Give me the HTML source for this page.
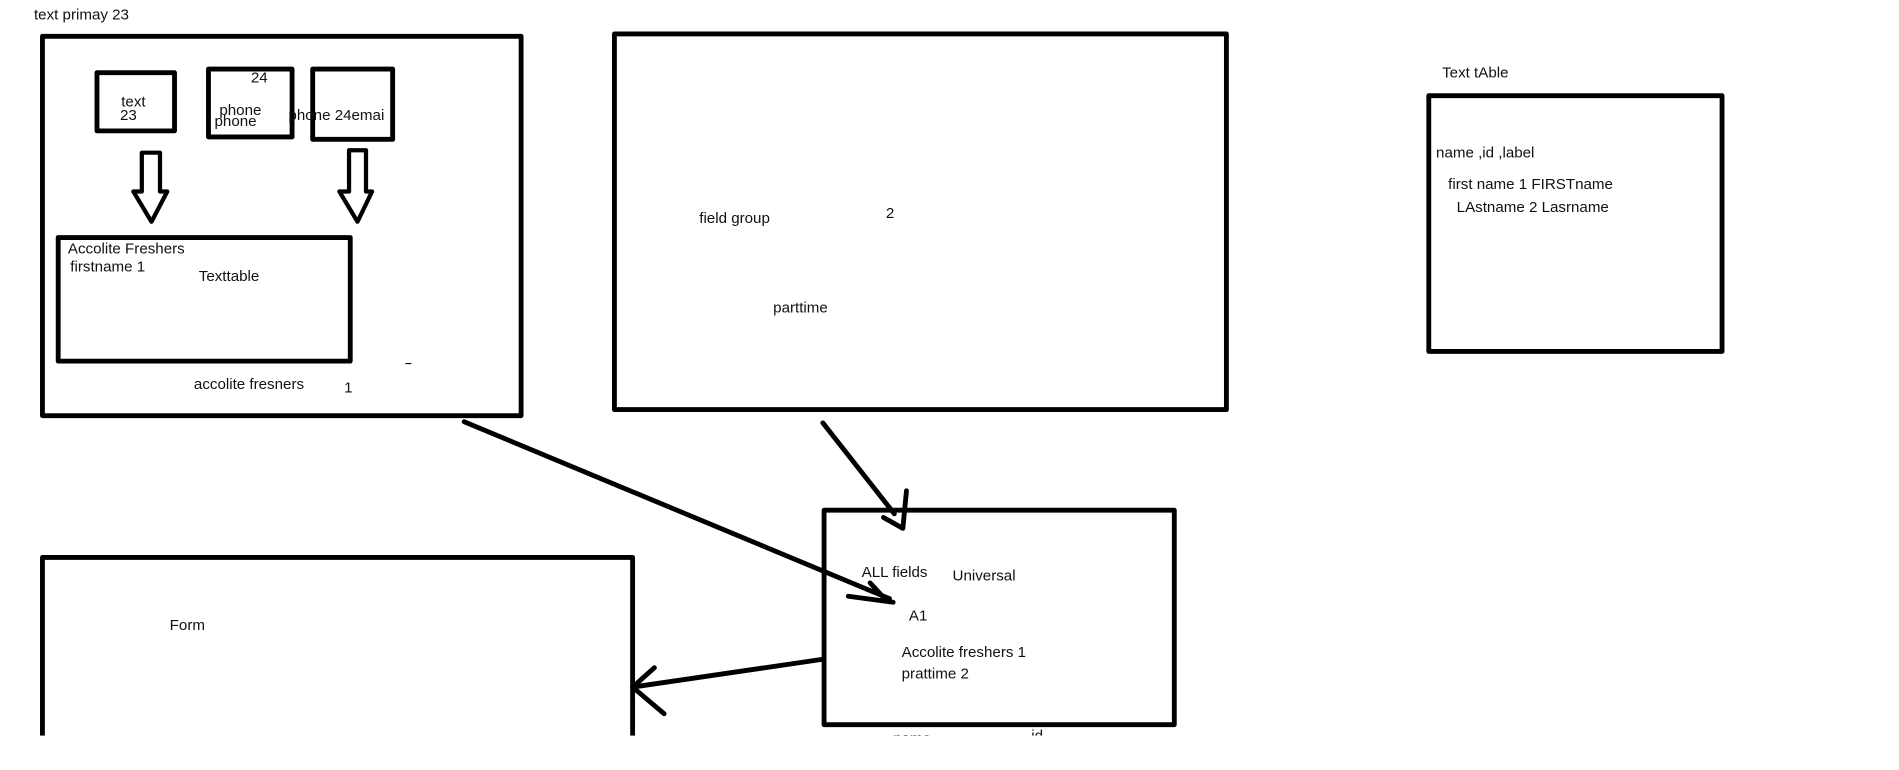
<!DOCTYPE html>
<html><head><meta charset="utf-8"><style>
html,body{margin:0;padding:0;background:#fff;width:1899px;height:770px;overflow:hidden}
svg{display:block}
text{font-family:"Liberation Sans",sans-serif;font-size:12.5px;fill:#111}
</style></head><body>
<svg width="1899" height="770" viewBox="0 0 1567 635.4" xmlns="http://www.w3.org/2000/svg">
<g fill="none" stroke="#000" stroke-width="4" stroke-linecap="round" stroke-linejoin="round">
<rect x="35" y="30" width="395" height="313"/>
<rect x="80" y="60" width="64" height="48"/>
<rect x="172" y="57" width="69" height="56"/>
<rect x="258" y="57" width="66" height="58"/>
<path d="M117,126 H132 V158 H138 L125,183 L110,158 H117 Z" stroke-width="3.5"/>
<path d="M288,124 H302 V158 H307 L295,183 L280,158 H288 Z" stroke-width="3.5"/>
<rect x="48" y="196" width="241" height="102"/>
<rect x="507" y="28" width="505" height="310"/>
<rect x="1179" y="79" width="242" height="211"/>
<rect x="680" y="421" width="289" height="177"/>
<path d="M35,640 V460 H522 V640"/>
<path d="M383,348 L734,494"/>
<path d="M700,492 L737,497"/>
<path d="M718,481 L730,494"/>
<path d="M679,349 L738,424"/>
<path d="M748,405 L745,436 L729,427"/>
<path d="M679,544 L522,567"/>
<path d="M522,567 L548,589"/>
<path d="M522,567 L540,551"/>
<path d="M335,300 H339" stroke-width="1"/>
</g>
<text x="28" y="16">text primay 23</text>
<text x="100" y="88">text</text>
<text x="99" y="99">23</text>
<text x="207" y="68">24</text>
<text x="181" y="95">phone</text>
<text x="177" y="104">phone</text>
<text x="238" y="99">phone 24emai</text>
<text x="56" y="209">Accolite Freshers</text>
<text x="58" y="224">firstname 1</text>
<text x="164" y="232">Texttable</text>
<text x="160" y="321">accolite fresners</text>
<text x="284" y="324">1</text>
<text x="577" y="184">field group</text>
<text x="731" y="180">2</text>
<text x="638" y="258">parttime</text>
<text x="1190" y="64">Text tAble</text>
<text x="1185" y="130">name ,id ,label</text>
<text x="1195" y="156">first name 1 FIRSTname</text>
<text x="1202" y="175">LAstname 2 Lasrname</text>
<text x="711" y="476">ALL fields</text>
<text x="786" y="479">Universal</text>
<text x="750" y="512">A1</text>
<text x="744" y="542">Accolite freshers 1</text>
<text x="744" y="560">prattime 2</text>
<text x="737" y="613">name</text>
<text x="851" y="611">id</text>
<text x="140" y="520">Form</text>
<rect x="0" y="607" width="1567" height="40" fill="#fff" stroke="none"/>
</svg>
</body></html>
